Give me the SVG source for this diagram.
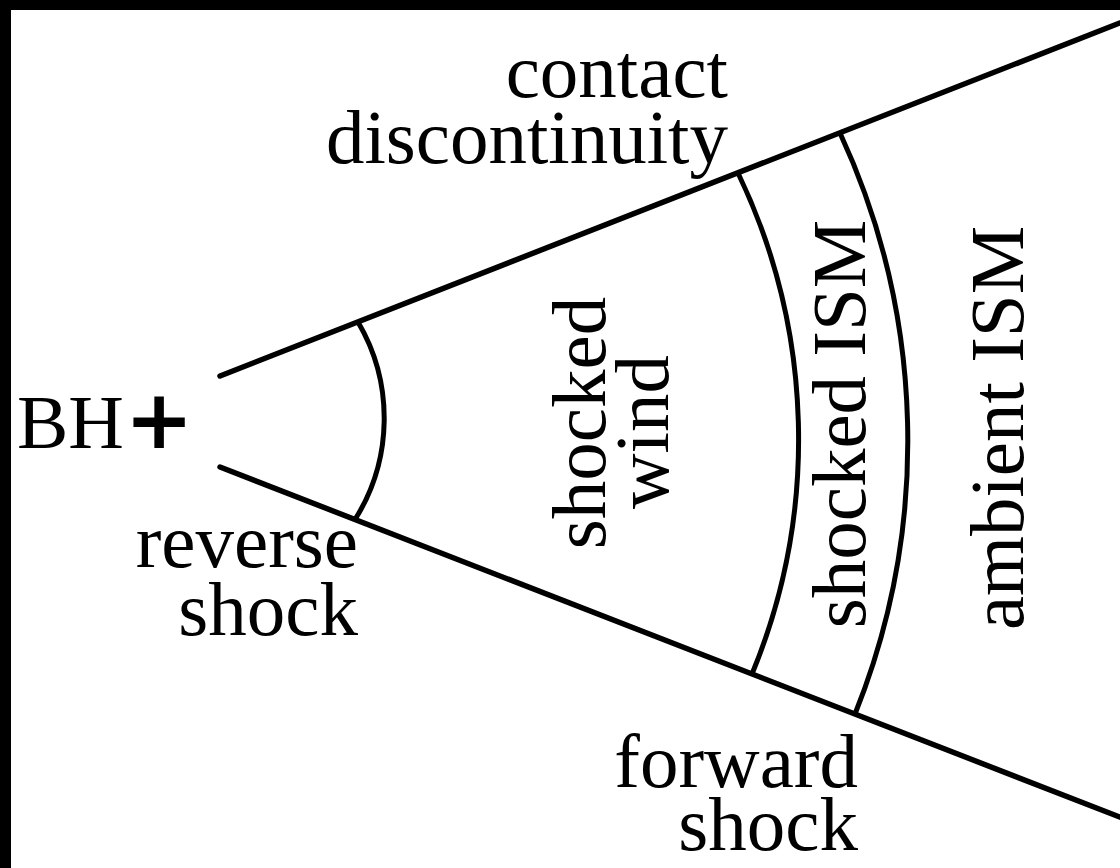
<svg xmlns="http://www.w3.org/2000/svg" width="1120" height="868" viewBox="0 0 1120 868">
  <style>
    .lbl { font-family: "Liberation Serif", "Times New Roman", serif; font-size: 77px; fill: #000; }
    .edge { fill: none; stroke: #000; stroke-width: 5.5; stroke-linecap: round; }
    .front { fill: none; stroke: #000; stroke-width: 5; }
  </style>
  <rect x="0" y="0" width="1120" height="868" fill="#fff"/>
  <rect x="0" y="0" width="1120" height="10" fill="#000"/>
  <rect x="0" y="0" width="11" height="868" fill="#000"/>

  <g id="connectors">
    <line class="edge" x1="220" y1="376" x2="1135" y2="17"/>
    <line class="edge" x1="220" y1="467" x2="1135" y2="823"/>
    <path id="reverse-shock-arc" class="front" d="M 358 322 A 190 190 0 0 1 355 519.5"/>
    <path id="contact-arc" class="front" d="M 738 173 A 615 615 0 0 1 752 674"/>
    <path id="forward-shock-arc" class="front" d="M 840 133 A 733 733 0 0 1 855 714"/>
  </g>

  <g id="bh">
    <text class="lbl" x="17" y="448">BH</text>
    <text x="159" y="448" text-anchor="middle" style="font-family: 'DejaVu Sans', sans-serif; font-weight: bold; font-size: 82px;">+</text>
  </g>

  <g id="contact-discontinuity">
    <text class="lbl" x="728" y="97" text-anchor="end">contact</text>
    <text class="lbl" x="728" y="163" text-anchor="end">discontinuity</text>
  </g>

  <g id="reverse-shock">
    <text class="lbl" x="358" y="567" text-anchor="end">reverse</text>
    <text class="lbl" x="358" y="635" text-anchor="end">shock</text>
  </g>

  <g id="forward-shock">
    <text class="lbl" x="858" y="787" text-anchor="end">forward</text>
    <text class="lbl" x="858" y="850" text-anchor="end">shock</text>
  </g>

  <g id="shocked-wind">
    <text class="lbl" text-anchor="middle" transform="translate(605,423) rotate(-90)">shocked</text>
    <text class="lbl" text-anchor="middle" transform="translate(668,432) rotate(-90)">wind</text>
  </g>

  <g id="shocked-ism">
    <text class="lbl" text-anchor="middle" transform="translate(865,424) rotate(-90)">shocked ISM</text>
  </g>

  <g id="ambient-ism">
    <text class="lbl" text-anchor="middle" transform="translate(1023,428) rotate(-90)">ambient ISM</text>
  </g>
</svg>
